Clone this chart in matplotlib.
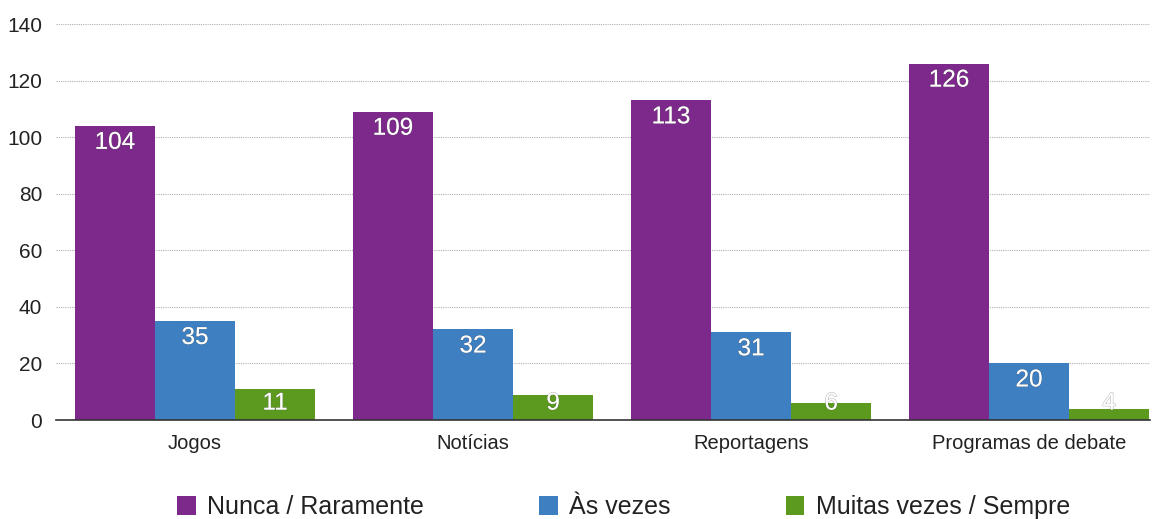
import matplotlib.pyplot as plt
import matplotlib.patheffects as pe
from matplotlib.patches import Patch
import numpy as np

plt.rcParams['font.family'] = ['Liberation Sans', 'DejaVu Sans']

categories = ["Jogos", "Notícias", "Reportagens", "Programas de debate"]
series_names = ["Nunca / Raramente", "Às vezes", "Muitas vezes / Sempre"]
nunca = [104, 109, 113, 126]
as_vezes = [35, 32, 31, 20]
muitas = [11, 9, 6, 4]
y_ticks = [0, 20, 40, 60, 80, 100, 120, 140]

colors = ["#7D298C", "#3D7FC0", "#5C9A1F"]

fig = plt.figure(figsize=(11.59, 5.19), dpi=100)
ax = fig.add_axes([56 / 1159, 99 / 519, (1150 - 56) / 1159, (420 - 24) / 519])

x = np.arange(len(categories))
w = 0.288
shadow = [pe.withStroke(linewidth=0.8, foreground=(0.35, 0.35, 0.35, 0.4))]
for i, (vals, col) in enumerate(zip([nunca, as_vezes, muitas], colors)):
    pos = x + (i - 1) * w
    ax.bar(pos, vals, width=w, color=col, zorder=2, label=series_names[i])
    for px, v in zip(pos, vals):
        # value label just inside the top of the bar, kept above the baseline
        ax.text(px, max(v - 6.0, 5.8), str(v), ha='center', va='center',
                color='white', fontsize=17.5, zorder=5, path_effects=shadow)

ax.set_xlim(-0.5, 3.435)
ax.set_ylim(0, 140)
ax.set_yticks(y_ticks)
ax.set_yticklabels([str(t) for t in y_ticks], fontsize=15, color='#222222')
ax.set_xticks(x)
ax.set_xticklabels(categories, fontsize=14.5, color='#222222')
ax.tick_params(axis='both', length=0)
ax.tick_params(axis='y', pad=10)
ax.tick_params(axis='x', pad=10)

for t in y_ticks[1:]:
    ax.axhline(t, color='#b0b0b0', linestyle=(0, (1, 1)), linewidth=0.8, zorder=1)

for side in ['top', 'right', 'left']:
    ax.spines[side].set_visible(False)
ax.spines['bottom'].set_color('#333333')
ax.spines['bottom'].set_linewidth(1.2)
ax.spines['bottom'].set_zorder(4)

handles = [Patch(facecolor=c, edgecolor='none') for c in colors]
fig.legend(handles, series_names, loc='center', bbox_to_anchor=(0.538, 0.023),
           ncol=3, frameon=False, fontsize=18, handlelength=0.75,
           handleheight=0.75, handletextpad=0.45, columnspacing=4.6,
           labelcolor='#222222')

fig.savefig("out.png", dpi=100)
